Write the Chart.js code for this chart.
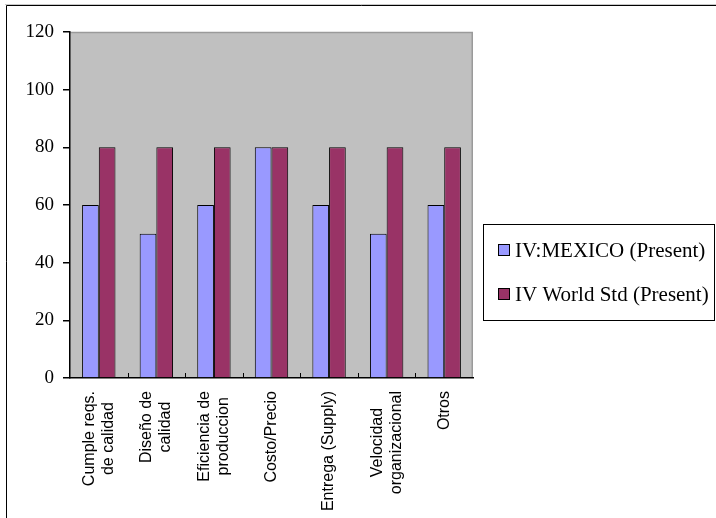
<!DOCTYPE html>
<html>
<head>
<meta charset="utf-8">
<script src="https://cdn.jsdelivr.net/npm/chart.js@4/dist/chart.umd.min.js"></script>
<style>
  html, body { margin: 0; padding: 0; background: #fff; }
  canvas { display: block; }
</style>
</head>
<body>
<canvas id="chart" width="716" height="518"></canvas>
<script>
// categories (wrapped the way the axis shows them)
const categories = [
  ["Cumple reqs.", "de calidad"],
  ["Diseño de", "calidad"],
  ["Eficiencia de", "produccion"],
  ["Costo/Precio"],
  ["Entrega (Supply)"],
  ["Velocidad", "organizacional"],
  ["Otros"]
];
const mexicoPresent = [60, 50, 60, 80, 60, 50, 60];
const worldStdPresent = [80, 80, 80, 80, 80, 80, 80];
const seriesNames = ["IV:MEXICO (Present)", "IV World Std (Present)"];
const seriesColors = ["#9999FF", "#993366"];
const yMin = 0, yMax = 120, yStep = 20;

const SERIF = "'Liberation Serif', 'Times New Roman', serif";
const SANS = "'Liberation Sans', Arial, sans-serif";

// white page, outer frame, grey plot area
const backdrop = {
  id: "backdrop",
  beforeDraw(chart) {
    const { ctx, chartArea: a } = chart;
    ctx.save();
    ctx.fillStyle = "#fff";
    ctx.fillRect(0, 0, chart.width, chart.height);

    ctx.strokeStyle = "#c8c8c8";
    ctx.lineWidth = 1;
    ctx.beginPath();
    ctx.moveTo(5, 4.5); ctx.lineTo(chart.width, 4.5);
    ctx.stroke();
    ctx.strokeStyle = "#000";
    ctx.beginPath();
    ctx.moveTo(6.5, chart.height); ctx.lineTo(6.5, 5.5); ctx.lineTo(chart.width, 5.5);
    ctx.stroke();

    ctx.fillStyle = "#C0C0C0";
    ctx.fillRect(a.left, a.top, a.right - a.left, a.bottom - a.top);
    ctx.strokeStyle = "#9a9a9a";
    ctx.lineWidth = 1.5;
    ctx.beginPath();
    ctx.moveTo(a.left, a.top + 0.5); ctx.lineTo(a.right - 0.75, a.top + 0.5); ctx.lineTo(a.right - 0.75, a.bottom);
    ctx.stroke();
    ctx.restore();
  }
};

// category labels, small inner ticks on the x axis, and the boxed legend
const decorations = {
  id: "decorations",
  afterDraw(chart) {
    const { ctx, chartArea: a } = chart;
    const xs = chart.scales.x;
    ctx.save();

    // tick marks between categories, pointing up into the plot
    ctx.strokeStyle = "#000";
    ctx.lineWidth = 1;
    for (let i = 1; i < categories.length; i++) {
      const px = Math.round((xs.getPixelForValue(i - 1) + xs.getPixelForValue(i)) / 2) + 0.5;
      ctx.beginPath();
      ctx.moveTo(px, a.bottom);
      ctx.lineTo(px, a.bottom - 5);
      ctx.stroke();
    }

    // rotated labels, reading upwards
    ctx.fillStyle = "#000";
    ctx.font = "16px " + SANS;
    ctx.textBaseline = "middle";
    const lineH = 19;
    chart.data.labels.forEach((lines, i) => {
      const cx = xs.getPixelForValue(i);
      const widest = Math.max(...lines.map(l => ctx.measureText(l).width));
      ctx.save();
      ctx.translate(cx, a.bottom + 13);
      ctx.rotate(-Math.PI / 2);
      ctx.textAlign = "center";
      lines.forEach((line, j) => {
        ctx.fillText(line, -widest / 2, (j - (lines.length - 1) / 2) * lineH);
      });
      ctx.restore();
    });

    // legend
    ctx.lineWidth = 1;
    ctx.strokeStyle = "#000";
    ctx.strokeRect(483.5, 224.5, 231, 96);
    ctx.font = "21px " + SERIF;
    ctx.textAlign = "left";
    ctx.textBaseline = "alphabetic";
    chart.data.datasets.forEach((ds, i) => {
      const y = 250 + i * 44;
      ctx.fillStyle = ds.backgroundColor;
      ctx.fillRect(498.5, y - 5.5, 11, 11);
      ctx.strokeStyle = "#000";
      ctx.strokeRect(498.5, y - 5.5, 11, 11);
      ctx.fillStyle = "#000";
      ctx.fillText(ds.label, 515, y + 7);
    });
    ctx.restore();
  }
};

new Chart(document.getElementById("chart"), {
  type: "bar",
  data: {
    labels: categories,
    datasets: [
      {
        label: seriesNames[0],
        data: mexicoPresent,
        backgroundColor: seriesColors[0],
        borderColor: "#000",
        borderWidth: 1,
        categoryPercentage: 0.58,
        barPercentage: 1
      },
      {
        label: seriesNames[1],
        data: worldStdPresent,
        backgroundColor: seriesColors[1],
        borderColor: "#000",
        borderWidth: 1,
        categoryPercentage: 0.58,
        barPercentage: 1
      }
    ]
  },
  options: {
    responsive: false,
    animation: false,
    layout: { padding: { left: 0, top: 32, right: 243, bottom: 0 } },
    plugins: {
      legend: { display: false },
      tooltip: { enabled: false }
    },
    scales: {
      x: {
        offset: true,
        grid: { display: false },
        ticks: { display: false },
        border: { display: true, color: "#000", width: 1.5 },
        afterFit(scale) { scale.height = 140; }
      },
      y: {
        min: yMin,
        max: yMax,
        ticks: {
          stepSize: yStep,
          color: "#000",
          padding: 9,
          font: { family: SERIF, size: 19 }
        },
        grid: { drawOnChartArea: false, color: "#000", lineWidth: 1.5, tickLength: 7 },
        border: { display: true, color: "#000", width: 1.5 },
        afterFit(scale) { scale.width = 70; }
      }
    }
  },
  plugins: [backdrop, decorations]
});
</script>
</body>
</html>
